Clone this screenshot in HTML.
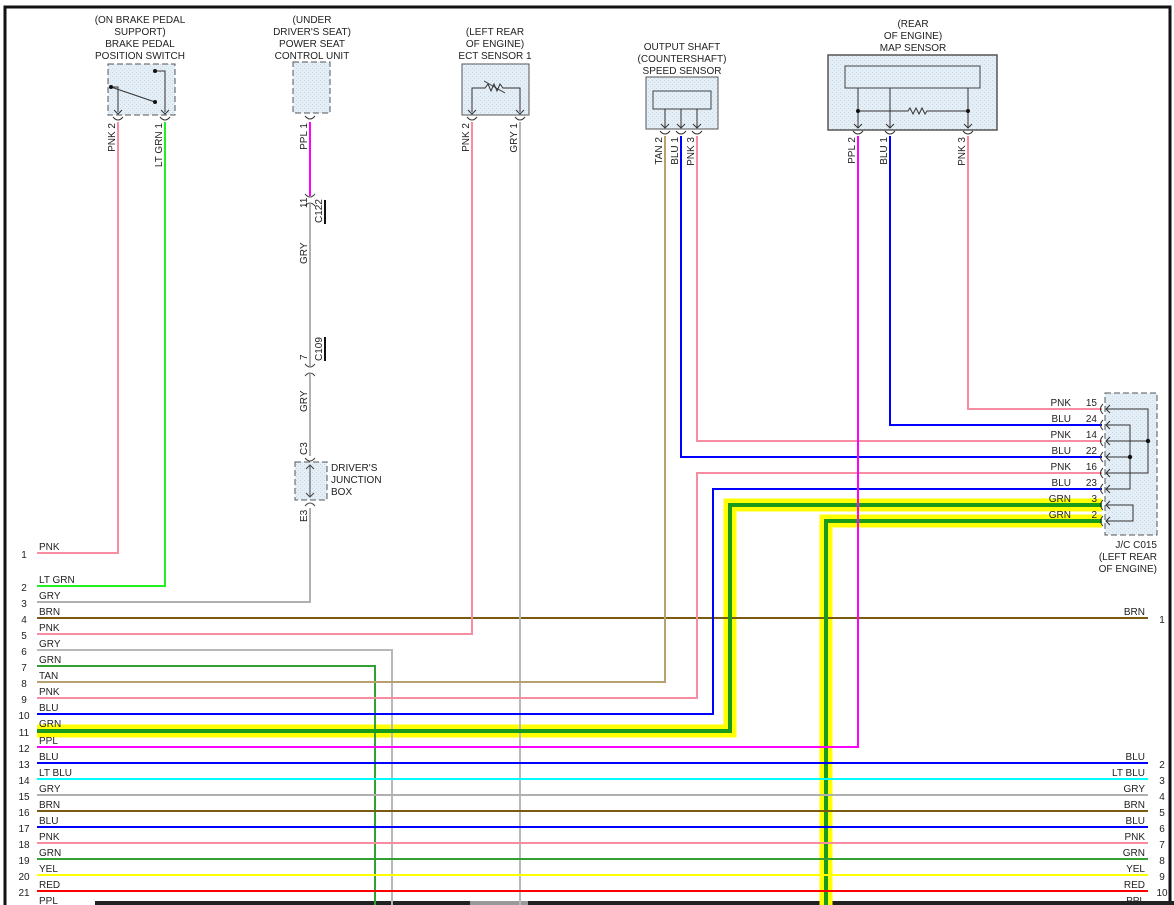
<!DOCTYPE html>
<html><head><meta charset="utf-8"><style>
html,body{margin:0;padding:0;background:#fff}
svg{display:block}
text{font-family:"Liberation Sans",Arial,sans-serif;font-size:10px;fill:#222}
</style></head><body>
<svg width="1174" height="905" viewBox="0 0 1174 905" xmlns="http://www.w3.org/2000/svg">
<defs>
<pattern id="dots" width="4" height="4" patternUnits="userSpaceOnUse"><rect width="4" height="4" fill="#e4eef6"/><rect width="1" height="1" fill="#c8d8e6"/><rect x="2" y="2" width="1" height="1" fill="#d0dde8"/></pattern>
</defs>
<rect x="0" y="0" width="1174" height="905" fill="#fff"/>
<!-- frame -->
<path d="M5 905 V7 H1170 V905" fill="none" stroke="#111" stroke-width="3"/>
<rect x="95" y="901" width="1079" height="4" fill="#222"/>
<rect x="470" y="901" width="58" height="4" fill="#999"/>

<!-- component labels -->
<g text-anchor="middle">
<text x="140" y="23">(ON BRAKE PEDAL</text><text x="140" y="35">SUPPORT)</text><text x="140" y="47">BRAKE PEDAL</text><text x="140" y="59">POSITION SWITCH</text>
<text x="312" y="23">(UNDER</text><text x="312" y="35">DRIVER'S SEAT)</text><text x="312" y="47">POWER SEAT</text><text x="312" y="59">CONTROL UNIT</text>
<text x="495" y="35">(LEFT REAR</text><text x="495" y="47">OF ENGINE)</text><text x="495" y="59">ECT SENSOR 1</text>
<text x="682" y="50">OUTPUT SHAFT</text><text x="682" y="62">(COUNTERSHAFT)</text><text x="682" y="74">SPEED SENSOR</text>
<text x="913" y="27">(REAR</text><text x="913" y="39">OF ENGINE)</text><text x="913" y="51">MAP SENSOR</text>
</g>

<!-- brake switch -->
<rect x="108" y="64" width="67" height="51" fill="url(#dots)" stroke="#555" stroke-dasharray="6,3"/>
<path d="M118 112 V87 H111" fill="none" stroke="#333"/>
<path d="M165 112 V71 H155" fill="none" stroke="#333"/>
<circle cx="155" cy="71" r="2" fill="#111"/>
<line x1="111" y1="87" x2="155" y2="102" stroke="#333"/>
<circle cx="111" cy="87" r="2" fill="#111"/><circle cx="155" cy="102" r="2" fill="#111"/>
<!-- power seat -->
<rect x="293" y="62" width="37" height="51" fill="url(#dots)" stroke="#555" stroke-dasharray="6,3"/>
<!-- ECT -->
<rect x="462" y="64" width="67" height="51" fill="url(#dots)" stroke="#555"/>
<path d="M472 112 V88 H485 l3 -4 3 7 3 -7 3 7 3 -7 3 4 H520 V112" fill="none" stroke="#333"/>
<line x1="484" y1="81" x2="505" y2="93" stroke="#333"/>
<!-- speed sensor -->
<rect x="646" y="77" width="72" height="52" fill="url(#dots)" stroke="#555"/>
<rect x="653" y="91" width="58" height="18" fill="url(#dots)" stroke="#444"/>
<path d="M665 109 V127 M681 109 V127 M697 109 V127" stroke="#333"/>
<!-- MAP -->
<rect x="828" y="55" width="169" height="75" fill="url(#dots)" stroke="#555" stroke-width="1.5"/>
<rect x="845" y="66" width="135" height="22" fill="url(#dots)" stroke="#444"/>
<path d="M858 88 V128 M890 88 V128 M968 88 V128 M858 111 H908 l2 -3 3 6 3 -6 3 6 3 -6 3 6 2 -3 H968" fill="none" stroke="#333"/>
<circle cx="858" cy="111" r="2" fill="#111"/><circle cx="968" cy="111" r="2" fill="#111"/>
<!-- pin arrows -->
<g fill="none" stroke="#333">
<path d="M114 110 l4 4 4 -4 M161 110 l4 4 4 -4 M468 110 l4 4 4 -4 M516 110 l4 4 4 -4 M661 124 l4 4 4 -4 M677 124 l4 4 4 -4 M693 124 l4 4 4 -4 M854 124 l4 4 4 -4 M886 124 l4 4 4 -4 M964 124 l4 4 4 -4"/>
<path d="M113 117 q5 6 10 0 M160 117 q5 6 10 0 M305 116 q5 6 10 0 M467 117 q5 6 10 0 M515 117 q5 6 10 0 M660 131 q5 6 10 0 M676 131 q5 6 10 0 M692 131 q5 6 10 0 M853 131 q5 6 10 0 M885 131 q5 6 10 0 M963 131 q5 6 10 0"/>
</g>

<!-- vertical pin labels -->
<g>
<text transform="translate(115,123) rotate(-90)" text-anchor="end">PNK  2</text>
<text transform="translate(162,123) rotate(-90)" text-anchor="end">LT GRN  1</text>
<text transform="translate(307,123) rotate(-90)" text-anchor="end">PPL  1</text>
<text transform="translate(469,123) rotate(-90)" text-anchor="end">PNK  2</text>
<text transform="translate(517,123) rotate(-90)" text-anchor="end">GRY  1</text>
<text transform="translate(662,137) rotate(-90)" text-anchor="end">TAN  2</text>
<text transform="translate(678,137) rotate(-90)" text-anchor="end">BLU  1</text>
<text transform="translate(694,137) rotate(-90)" text-anchor="end">PNK  3</text>
<text transform="translate(855,137) rotate(-90)" text-anchor="end">PPL  2</text>
<text transform="translate(887,137) rotate(-90)" text-anchor="end">BLU  1</text>
<text transform="translate(965,137) rotate(-90)" text-anchor="end">PNK  3</text>
</g>

<!-- highlighted GRN wires -->
<g fill="none" stroke-linejoin="miter">
<path d="M37 731 H730 V505 H1102" stroke="#ffff00" stroke-width="13"/>
<path d="M826 905 V521 H1102" stroke="#ffff00" stroke-width="13"/>
</g>

<!-- wires -->
<g fill="none" stroke-width="2">
<path d="M118 122 V553 H37" stroke="#f88ca0"/>
<path d="M165 122 V586 H37" stroke="#22ee22"/>
<path d="M310 122 V196" stroke="#ff00ff"/>
<path d="M310 204 V366 M310 374 V456 M310 508 V602 H37" stroke="#b0b0b0"/>
<path d="M37 618 H1148" stroke="#7a5a10"/>
<path d="M472 122 V634 H37" stroke="#f88ca0"/>
<path d="M520 122 V905" stroke="#b8b8b8"/>
<path d="M37 650 H392 V905" stroke="#b8b8b8"/>
<path d="M37 666 H375 V905" stroke="#33a033"/>
<path d="M665 136 V682 H37" stroke="#b8a070"/>
<path d="M697 136 V441 H1102" stroke="#f88ca0"/>
<path d="M1102 473 H697 V698 H37" stroke="#f88ca0"/>
<path d="M681 136 V457 H1102" stroke="#0000ff"/>
<path d="M1102 489 H713 V714 H37" stroke="#0000ff"/>
<path d="M37 731 H730 V505 H1102" stroke="#1a9a1a" stroke-width="4"/>
<path d="M826 905 V521 H1102" stroke="#1a9a1a" stroke-width="4"/>
<path d="M858 136 V747 H37" stroke="#ff00ff"/>
<path d="M890 136 V425 H1102" stroke="#0000ff"/>
<path d="M968 136 V409 H1102" stroke="#f88ca0"/>
<path d="M37 763 H1148" stroke="#0000ff"/>
<path d="M37 779 H1148" stroke="#00ffff"/>
<path d="M37 795 H1148" stroke="#b0b0b0"/>
<path d="M37 811 H1148" stroke="#7a5a10"/>
<path d="M37 827 H1148" stroke="#0000ff"/>
<path d="M37 843 H1148" stroke="#f88ca0"/>
<path d="M37 859 H1148" stroke="#33a033"/>
<path d="M37 875 H1148" stroke="#ffff00"/>
<path d="M37 891 H1148" stroke="#ff0000"/>
</g>
<!-- re-draw PPL crossing on top -->
<path d="M858 500 V747" stroke="#ff00ff" stroke-width="2" fill="none"/>

<!-- C122 / C109 connectors -->
<g fill="none" stroke="#444">
<path d="M305 194 q5 6 10 0 M305 206 q5 -6 10 0"/>
<path d="M305 364 q5 6 10 0 M305 376 q5 -6 10 0"/>
<path d="M305 458 q5 6 10 0 M305 506 q5 -6 10 0"/>
</g>
<text transform="translate(307,208) rotate(-90)">11</text>
<text transform="translate(322,223) rotate(-90)">C122</text>
<line x1="325" y1="200" x2="325" y2="224" stroke="#111" stroke-width="2"/>
<text transform="translate(307,264) rotate(-90)">GRY</text>
<text transform="translate(307,360) rotate(-90)">7</text>
<text transform="translate(322,361) rotate(-90)">C109</text>
<line x1="325" y1="337" x2="325" y2="361" stroke="#111" stroke-width="2"/>
<text transform="translate(307,412) rotate(-90)">GRY</text>
<text transform="translate(307,455) rotate(-90)">C3</text>
<text transform="translate(307,522) rotate(-90)">E3</text>
<!-- junction box -->
<rect x="295" y="462" width="32" height="38" fill="url(#dots)" stroke="#555" stroke-dasharray="6,3"/>
<path d="M310 465 V497 M306 469 l4 -4 4 4 M306 493 l4 4 4 -4" fill="none" stroke="#444"/>
<text x="331" y="471">DRIVER'S</text><text x="331" y="483">JUNCTION</text><text x="331" y="495">BOX</text>

<!-- J/C C015 -->
<rect x="1105" y="393" width="52" height="142" fill="url(#dots)" stroke="#555" stroke-dasharray="6,3"/>
<g fill="none" stroke="#333">
<path d="M1106 409 H1148 V473 H1106 M1148 441 H1106"/>
<path d="M1106 425 H1130 V489 H1106 M1130 457 H1106"/>
<path d="M1106 505 H1133 V521 H1106"/>
<path d="M1110 405 l-4 4 4 4 M1110 421 l-4 4 4 4 M1110 437 l-4 4 4 4 M1110 453 l-4 4 4 4 M1110 469 l-4 4 4 4 M1110 485 l-4 4 4 4 M1110 501 l-4 4 4 4 M1110 517 l-4 4 4 4"/>
<path d="M1103 404 q-5 5 0 10 M1103 420 q-5 5 0 10 M1103 436 q-5 5 0 10 M1103 452 q-5 5 0 10 M1103 468 q-5 5 0 10 M1103 484 q-5 5 0 10 M1103 500 q-5 5 0 10 M1103 516 q-5 5 0 10"/>
</g>
<circle cx="1148" cy="441" r="2.2" fill="#111"/><circle cx="1130" cy="457" r="2.2" fill="#111"/>
<g text-anchor="end">
<text x="1071" y="406">PNK</text><text x="1097" y="406">15</text>
<text x="1071" y="422">BLU</text><text x="1097" y="422">24</text>
<text x="1071" y="438">PNK</text><text x="1097" y="438">14</text>
<text x="1071" y="454">BLU</text><text x="1097" y="454">22</text>
<text x="1071" y="470">PNK</text><text x="1097" y="470">16</text>
<text x="1071" y="486">BLU</text><text x="1097" y="486">23</text>
<text x="1071" y="502">GRN</text><text x="1097" y="502">3</text>
<text x="1071" y="518">GRN</text><text x="1097" y="518">2</text>
<text x="1157" y="548">J/C C015</text><text x="1157" y="560">(LEFT REAR</text><text x="1157" y="572">OF ENGINE)</text>
</g>

<!-- left labels -->
<g>
<text x="39" y="550">PNK</text>
<text x="39" y="583">LT GRN</text>
<text x="39" y="599">GRY</text>
<text x="39" y="615">BRN</text>
<text x="39" y="631">PNK</text>
<text x="39" y="647">GRY</text>
<text x="39" y="663">GRN</text>
<text x="39" y="679">TAN</text>
<text x="39" y="695">PNK</text>
<text x="39" y="711">BLU</text>
<text x="39" y="727">GRN</text>
<text x="39" y="744">PPL</text>
<text x="39" y="760">BLU</text>
<text x="39" y="776">LT BLU</text>
<text x="39" y="792">GRY</text>
<text x="39" y="808">BRN</text>
<text x="39" y="824">BLU</text>
<text x="39" y="840">PNK</text>
<text x="39" y="856">GRN</text>
<text x="39" y="872">YEL</text>
<text x="39" y="888">RED</text>
<text x="39" y="904">PPL</text>
</g>
<g text-anchor="middle">
<text x="24" y="558">1</text><text x="24" y="591">2</text><text x="24" y="607">3</text><text x="24" y="623">4</text>
<text x="24" y="639">5</text><text x="24" y="655">6</text><text x="24" y="671">7</text><text x="24" y="687">8</text>
<text x="24" y="703">9</text><text x="24" y="719">10</text><text x="24" y="736">11</text><text x="24" y="752">12</text>
<text x="24" y="768">13</text><text x="24" y="784">14</text><text x="24" y="800">15</text><text x="24" y="816">16</text>
<text x="24" y="832">17</text><text x="24" y="848">18</text><text x="24" y="864">19</text><text x="24" y="880">20</text>
<text x="24" y="896">21</text>
</g>
<!-- right labels -->
<g text-anchor="end">
<text x="1145" y="615">BRN</text>
<text x="1145" y="760">BLU</text>
<text x="1145" y="776">LT BLU</text>
<text x="1145" y="792">GRY</text>
<text x="1145" y="808">BRN</text>
<text x="1145" y="824">BLU</text>
<text x="1145" y="840">PNK</text>
<text x="1145" y="856">GRN</text>
<text x="1145" y="872">YEL</text>
<text x="1145" y="888">RED</text>
<text x="1145" y="904">PPL</text>
</g>
<g text-anchor="middle">
<text x="1162" y="623">1</text><text x="1162" y="768">2</text><text x="1162" y="784">3</text><text x="1162" y="800">4</text>
<text x="1162" y="816">5</text><text x="1162" y="832">6</text><text x="1162" y="848">7</text><text x="1162" y="864">8</text>
<text x="1162" y="880">9</text><text x="1162" y="896">10</text>
</g>
</svg>
</body></html>
